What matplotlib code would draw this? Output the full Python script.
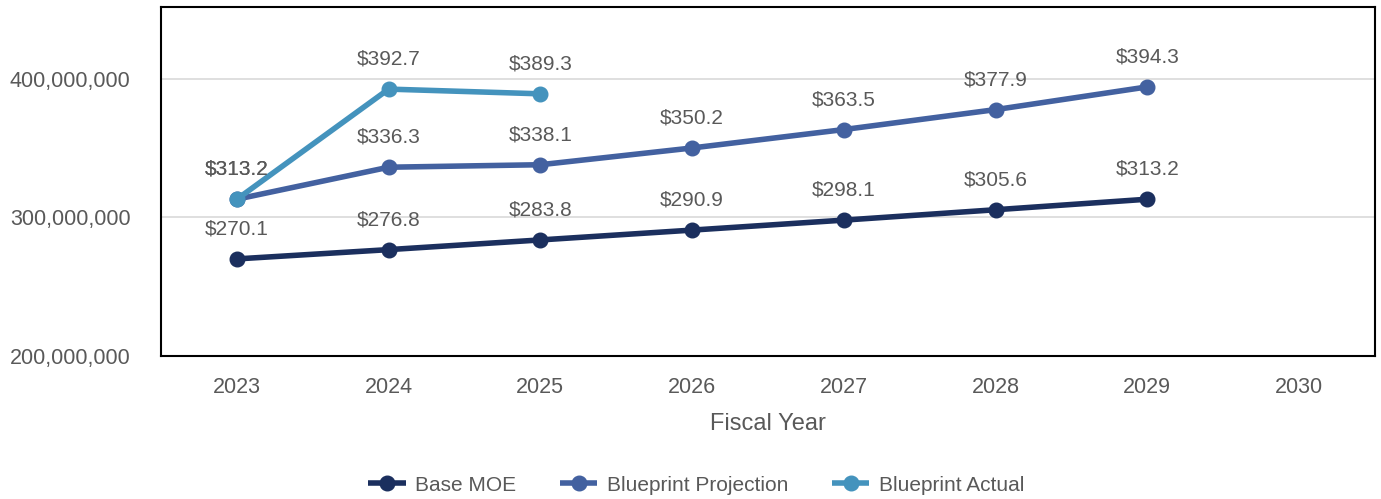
import matplotlib
matplotlib.use("Agg")
import matplotlib.pyplot as plt
from matplotlib.ticker import FuncFormatter

plt.rcParams['font.family'] = ['Liberation Sans', 'DejaVu Sans']

years = ["2023", "2024", "2025", "2026", "2027", "2028", "2029", "2030"]
base_moe = [270.1, 276.8, 283.8, 290.9, 298.1, 305.6, 313.2]
blueprint_projection = [313.2, 336.3, 338.1, 350.2, 363.5, 377.9, 394.3]
blueprint_actual = [313.2, 392.7, 389.3]
yticks = [200_000_000, 300_000_000, 400_000_000]

series = [
    ("Base MOE", base_moe, "#1B2F5E"),
    ("Blueprint Projection", blueprint_projection, "#4361A0"),
    ("Blueprint Actual", blueprint_actual, "#4493BD"),
]

fig = plt.figure(figsize=(13.81, 4.99), dpi=100)
ax = fig.add_axes([0.1166, 0.2866, 0.879, 0.6994])

gray = "#595959"
for name, vals, col in series:
    xs = list(range(len(vals)))
    ys = [v * 1e6 for v in vals]
    ax.plot(xs, ys, color=col, lw=4, marker='o', ms=10.5, label=name,
            solid_capstyle='butt', zorder=3)
    for x, v in zip(xs, vals):
        ax.annotate(f"${v:.1f}", (x, v * 1e6), xytext=(0, 21.5), textcoords='offset points',
                    ha='center', va='center', fontsize=15, color=gray)

ax.set_xlim(-0.5, len(years) - 0.5)
ax.set_ylim(200_000_000, 452_000_000)
ax.set_xticks(range(len(years)))
ax.set_xticklabels(years)
ax.set_yticks(yticks)
ax.yaxis.set_major_formatter(FuncFormatter(lambda v, p: f"{int(v):,}"))
ax.tick_params(axis='both', length=0, labelsize=15.5, labelcolor=gray)
ax.tick_params(axis='y', pad=22)
ax.tick_params(axis='x', pad=15)
ax.grid(axis='y', color='#D9D9D9', lw=1.2, zorder=0)
ax.set_axisbelow(True)
for s in ax.spines.values():
    s.set_color('black')
    s.set_linewidth(1.5)
ax.set_xlabel("Fiscal Year", fontsize=17, color=gray, labelpad=11)

fig.legend(loc='center', bbox_to_anchor=(0.504, 0.028), ncol=3, frameon=False,
           fontsize=15, labelcolor=gray, handlelength=1.8, columnspacing=2.1, handletextpad=0.45)

fig.savefig("out.png", dpi=100)
